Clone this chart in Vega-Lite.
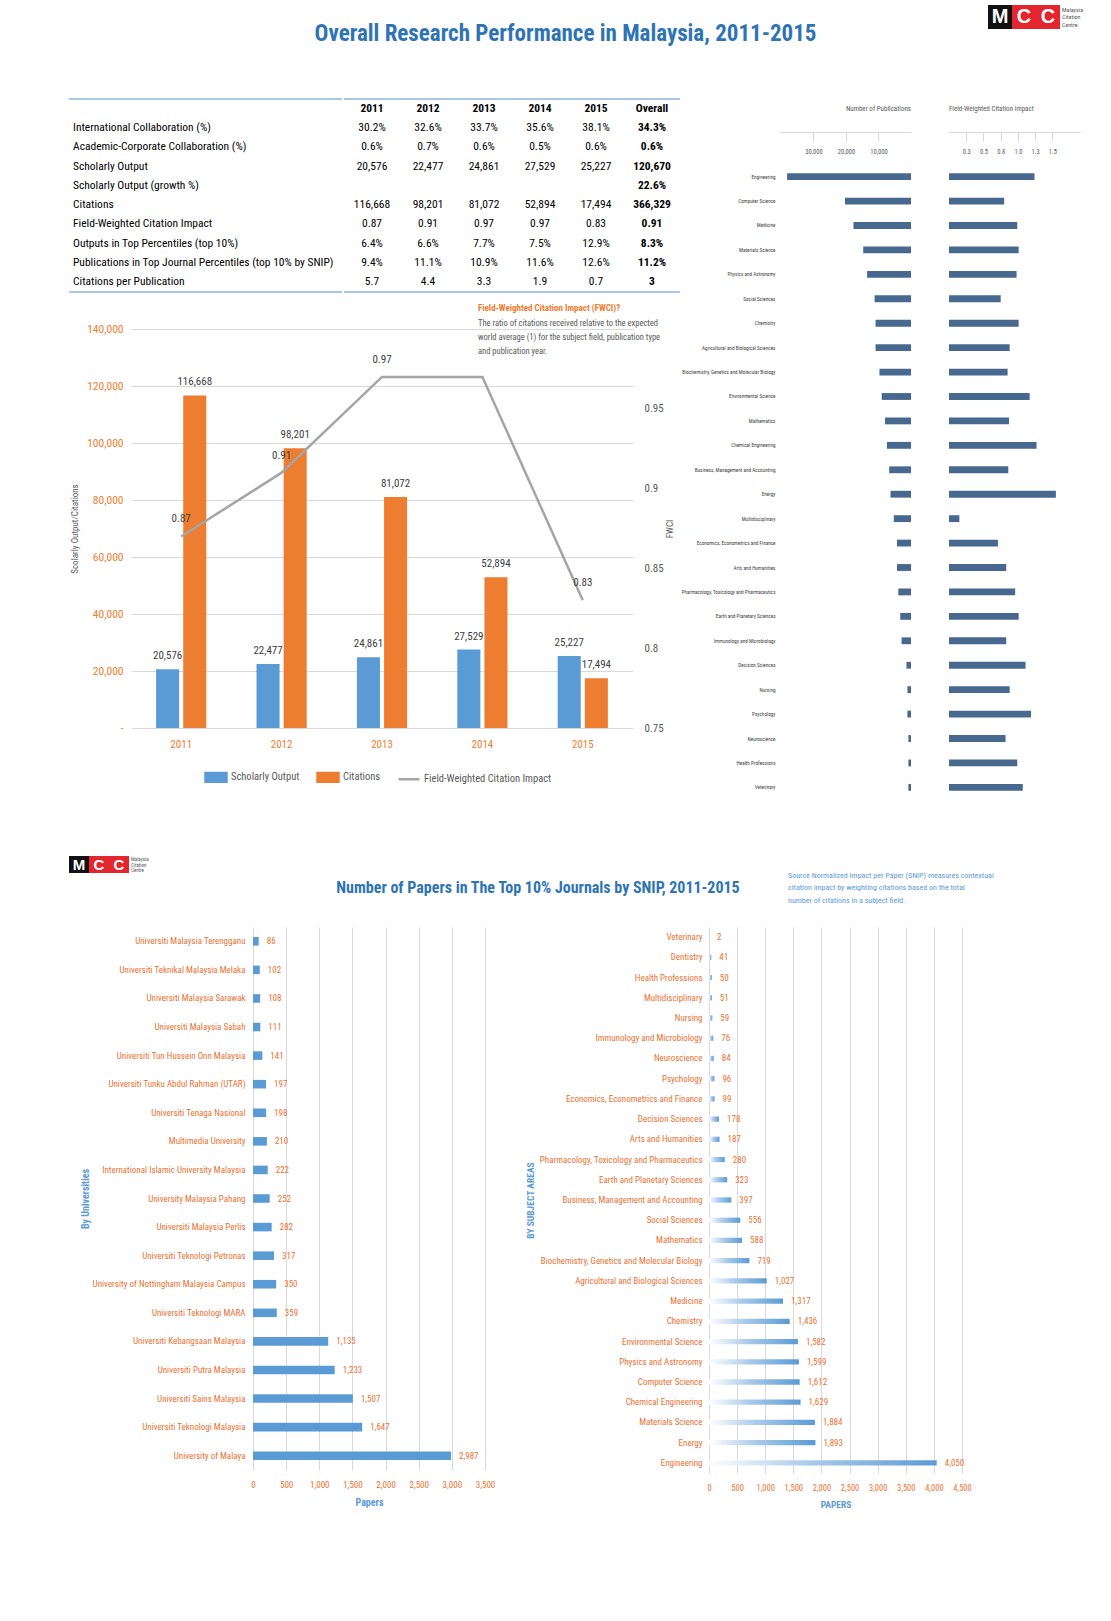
{
"$schema":"https://vega.github.io/schema/vega-lite/v6.json",
"padding":{"left":68,"top":5,"right":0,"bottom":0},
"background":"#ffffff",
"config":{"font":"Liberation Sans Narrow, Roboto Condensed, sans-serif","view":{"stroke":null}},
"datasets":{
"tbl":[
{"r":"hdr","c":"2011","t":"2011"},{"r":"hdr","c":"2012","t":"2012"},{"r":"hdr","c":"2013","t":"2013"},{"r":"hdr","c":"2014","t":"2014"},{"r":"hdr","c":"2015","t":"2015"},{"r":"hdr","c":"Overall","t":"Overall"},
{"r":"International Collaboration (%)","c":"label","t":"International Collaboration (%)"},
{"r":"Academic-Corporate Collaboration (%)","c":"label","t":"Academic-Corporate Collaboration (%)"},
{"r":"Scholarly Output","c":"label","t":"Scholarly Output"},
{"r":"Scholarly Output (growth %)","c":"label","t":"Scholarly Output (growth %)"},
{"r":"Citations","c":"label","t":"Citations"},
{"r":"Field-Weighted Citation Impact","c":"label","t":"Field-Weighted Citation Impact"},
{"r":"Outputs in Top Percentiles (top 10%)","c":"label","t":"Outputs in Top Percentiles (top 10%)"},
{"r":"Publications in Top Journal Percentiles (top 10% by SNIP)","c":"label","t":"Publications in Top Journal Percentiles (top 10% by SNIP)"},
{"r":"Citations per Publication","c":"label","t":"Citations per Publication"},
{"r":"International Collaboration (%)","c":"2011","t":"30.2%"},{"r":"International Collaboration (%)","c":"2012","t":"32.6%"},{"r":"International Collaboration (%)","c":"2013","t":"33.7%"},{"r":"International Collaboration (%)","c":"2014","t":"35.6%"},{"r":"International Collaboration (%)","c":"2015","t":"38.1%"},{"r":"International Collaboration (%)","c":"Overall","t":"34.3%"},
{"r":"Academic-Corporate Collaboration (%)","c":"2011","t":"0.6%"},{"r":"Academic-Corporate Collaboration (%)","c":"2012","t":"0.7%"},{"r":"Academic-Corporate Collaboration (%)","c":"2013","t":"0.6%"},{"r":"Academic-Corporate Collaboration (%)","c":"2014","t":"0.5%"},{"r":"Academic-Corporate Collaboration (%)","c":"2015","t":"0.6%"},{"r":"Academic-Corporate Collaboration (%)","c":"Overall","t":"0.6%"},
{"r":"Scholarly Output","c":"2011","t":"20,576"},{"r":"Scholarly Output","c":"2012","t":"22,477"},{"r":"Scholarly Output","c":"2013","t":"24,861"},{"r":"Scholarly Output","c":"2014","t":"27,529"},{"r":"Scholarly Output","c":"2015","t":"25,227"},{"r":"Scholarly Output","c":"Overall","t":"120,670"},
{"r":"Scholarly Output (growth %)","c":"Overall","t":"22.6%"},
{"r":"Citations","c":"2011","t":"116,668"},{"r":"Citations","c":"2012","t":"98,201"},{"r":"Citations","c":"2013","t":"81,072"},{"r":"Citations","c":"2014","t":"52,894"},{"r":"Citations","c":"2015","t":"17,494"},{"r":"Citations","c":"Overall","t":"366,329"},
{"r":"Field-Weighted Citation Impact","c":"2011","t":"0.87"},{"r":"Field-Weighted Citation Impact","c":"2012","t":"0.91"},{"r":"Field-Weighted Citation Impact","c":"2013","t":"0.97"},{"r":"Field-Weighted Citation Impact","c":"2014","t":"0.97"},{"r":"Field-Weighted Citation Impact","c":"2015","t":"0.83"},{"r":"Field-Weighted Citation Impact","c":"Overall","t":"0.91"},
{"r":"Outputs in Top Percentiles (top 10%)","c":"2011","t":"6.4%"},{"r":"Outputs in Top Percentiles (top 10%)","c":"2012","t":"6.6%"},{"r":"Outputs in Top Percentiles (top 10%)","c":"2013","t":"7.7%"},{"r":"Outputs in Top Percentiles (top 10%)","c":"2014","t":"7.5%"},{"r":"Outputs in Top Percentiles (top 10%)","c":"2015","t":"12.9%"},{"r":"Outputs in Top Percentiles (top 10%)","c":"Overall","t":"8.3%"},
{"r":"Publications in Top Journal Percentiles (top 10% by SNIP)","c":"2011","t":"9.4%"},{"r":"Publications in Top Journal Percentiles (top 10% by SNIP)","c":"2012","t":"11.1%"},{"r":"Publications in Top Journal Percentiles (top 10% by SNIP)","c":"2013","t":"10.9%"},{"r":"Publications in Top Journal Percentiles (top 10% by SNIP)","c":"2014","t":"11.6%"},{"r":"Publications in Top Journal Percentiles (top 10% by SNIP)","c":"2015","t":"12.6%"},{"r":"Publications in Top Journal Percentiles (top 10% by SNIP)","c":"Overall","t":"11.2%"},
{"r":"Citations per Publication","c":"2011","t":"5.7"},{"r":"Citations per Publication","c":"2012","t":"4.4"},{"r":"Citations per Publication","c":"2013","t":"3.3"},{"r":"Citations per Publication","c":"2014","t":"1.9"},{"r":"Citations per Publication","c":"2015","t":"0.7"},{"r":"Citations per Publication","c":"Overall","t":"3"}
],
"combo":[
{"year":"2011","series":"Scholarly Output","value":20576},{"year":"2011","series":"Citations","value":116668},
{"year":"2012","series":"Scholarly Output","value":22477},{"year":"2012","series":"Citations","value":98201},
{"year":"2013","series":"Scholarly Output","value":24861},{"year":"2013","series":"Citations","value":81072},
{"year":"2014","series":"Scholarly Output","value":27529},{"year":"2014","series":"Citations","value":52894},
{"year":"2015","series":"Scholarly Output","value":25227},{"year":"2015","series":"Citations","value":17494}
],
"fwci":[
{"year":"2011","fwci":0.87},{"year":"2012","fwci":0.91},{"year":"2013","fwci":0.97},{"year":"2014","fwci":0.97},{"year":"2015","fwci":0.83}
],
"logo":[{"p":"M","ch":"M"},{"p":"C1","ch":"C"},{"p":"C2","ch":"C"}],
"logotxt":[{"l":"Malaysia"},{"l":"Citation"},{"l":"Centre"}],
"empty":[],
"subj26":[
{"s":"Engineering","pubs":38100,"fw":1.24},
{"s":"Computer Science","pubs":20300,"fw":0.80},
{"s":"Medicine","pubs":17700,"fw":0.99},
{"s":"Materials Science","pubs":14700,"fw":1.01},
{"s":"Physics and Astronomy","pubs":13500,"fw":0.98},
{"s":"Social Sciences","pubs":11200,"fw":0.75},
{"s":"Chemistry","pubs":10900,"fw":1.01},
{"s":"Agricultural and Biological Sciences","pubs":10900,"fw":0.88},
{"s":"Biochemistry, Genetics and Molecular Biology","pubs":9700,"fw":0.85},
{"s":"Environmental Science","pubs":9000,"fw":1.17},
{"s":"Mathematics","pubs":8000,"fw":0.87},
{"s":"Chemical Engineering","pubs":7400,"fw":1.27},
{"s":"Business, Management and Accounting","pubs":6700,"fw":0.86},
{"s":"Energy","pubs":6300,"fw":1.55},
{"s":"Multidisciplinary","pubs":5300,"fw":0.15},
{"s":"Economics, Econometrics and Finance","pubs":4300,"fw":0.71},
{"s":"Arts and Humanities","pubs":4300,"fw":0.83},
{"s":"Pharmacology, Toxicology and Pharmaceutics","pubs":3900,"fw":0.96},
{"s":"Earth and Planetary Sciences","pubs":3300,"fw":1.01},
{"s":"Immunology and Microbiology","pubs":2900,"fw":0.83},
{"s":"Decision Sciences","pubs":1400,"fw":1.11},
{"s":"Nursing","pubs":1100,"fw":0.88},
{"s":"Psychology","pubs":1100,"fw":1.19},
{"s":"Neuroscience","pubs":800,"fw":0.82},
{"s":"Health Professions","pubs":800,"fw":0.99},
{"s":"Veterinary","pubs":800,"fw":1.07}
],
"univ":[
{"u":"Universiti Malaysia Terengganu","n":86},
{"u":"Universiti Teknikal Malaysia Melaka","n":102},
{"u":"Universiti Malaysia Sarawak","n":108},
{"u":"Universiti Malaysia Sabah","n":111},
{"u":"Universiti Tun Hussein Onn Malaysia","n":141},
{"u":"Universiti Tunku Abdul Rahman (UTAR)","n":197},
{"u":"Universiti Tenaga Nasional","n":198},
{"u":"Multimedia University","n":210},
{"u":"International Islamic University Malaysia","n":222},
{"u":"University Malaysia Pahang","n":252},
{"u":"Universiti Malaysia Perlis","n":282},
{"u":"Universiti Teknologi Petronas","n":317},
{"u":"University of Nottingham Malaysia Campus","n":350},
{"u":"Universiti Teknologi MARA","n":359},
{"u":"Universiti Kebangsaan Malaysia","n":1135},
{"u":"Universiti Putra Malaysia","n":1233},
{"u":"Universiti Sains Malaysia","n":1507},
{"u":"Universiti Teknologi Malaysia","n":1647},
{"u":"University of Malaya","n":2987}
],
"subj27":[
{"s":"Veterinary","n":2},{"s":"Dentistry","n":41},{"s":"Health Professions","n":50},{"s":"Multidisciplinary","n":51},{"s":"Nursing","n":59},
{"s":"Immunology and Microbiology","n":76},{"s":"Neuroscience","n":84},{"s":"Psychology","n":96},{"s":"Economics, Econometrics and Finance","n":99},
{"s":"Decision Sciences","n":178},{"s":"Arts and Humanities","n":187},{"s":"Pharmacology, Toxicology and Pharmaceutics","n":280},
{"s":"Earth and Planetary Sciences","n":323},{"s":"Business, Management and Accounting","n":397},{"s":"Social Sciences","n":556},
{"s":"Mathematics","n":588},{"s":"Biochemistry, Genetics and Molecular Biology","n":719},{"s":"Agricultural and Biological Sciences","n":1027},
{"s":"Medicine","n":1317},{"s":"Chemistry","n":1436},{"s":"Environmental Science","n":1582},{"s":"Physics and Astronomy","n":1599},
{"s":"Computer Science","n":1612},{"s":"Chemical Engineering","n":1629},{"s":"Materials Science","n":1884},{"s":"Energy","n":1893},{"s":"Engineering","n":4050}
]
},
"spacing":53,
"resolve":{"scale":{"color":"independent"},"legend":{"color":"independent"}},
"vconcat":[
{"spacing":35,
 "resolve":{"scale":{"color":"independent"},"legend":{"color":"independent"}},
 "vconcat":[
 {"spacing":0,
  "hconcat":[
  {"width":919,"height":58,"data":{"values":[{"t":"Overall Research Performance in Malaysia, 2011-2015"}]},
   "mark":{"type":"text","fontSize":23,"fontWeight":"bold","color":"#2E74B5","dx":37},
   "encoding":{"text":{"field":"t"}}},
  {"width":120,"height":24,
   "layer":[
    {"data":{"name":"logo"},
     "encoding":{"x":{"field":"p","type":"nominal","sort":null,"scale":{"type":"band","domain":["M","C1","C2","T1","T2"],"paddingInner":0,"paddingOuter":0},"axis":null}},
     "layer":[
      {"transform":[{"filter":"datum.p == 'M'"}],"mark":{"type":"bar","color":"#111111"}},
      {"transform":[{"filter":"datum.p != 'M'"}],"mark":{"type":"bar","color":"#E3262D"}},
      {"mark":{"type":"text","color":"#ffffff","fontWeight":"bold","fontSize":20,"font":"Liberation Sans"},"encoding":{"text":{"field":"ch"}}}
     ]},
    {"data":{"name":"logotxt"},
     "mark":{"type":"text","align":"left","fontSize":6,"color":"#555555","dx":-10},
     "encoding":{"x":{"datum":"T1","type":"nominal"},"y":{"field":"l","type":"nominal","sort":null,"scale":{"type":"point","padding":0.6},"axis":null},"text":{"field":"l"}}}
   ]}
 ]},
 {"spacing":0,
  "resolve":{"scale":{"color":"independent"},"legend":{"color":"independent"}},
  "hconcat":[
  {"spacing":10,
   "resolve":{"scale":{"color":"independent"},"legend":{"color":"independent"}},
   "vconcat":[
   {"spacing":0,
    "hconcat":[
    {"width":273,"height":193,"data":{"name":"tbl"},
     "encoding":{"y":{"field":"r","type":"nominal","scale":{"type":"band","domain":["hdr","International Collaboration (%)","Academic-Corporate Collaboration (%)","Scholarly Output","Scholarly Output (growth %)","Citations","Field-Weighted Citation Impact","Outputs in Top Percentiles (top 10%)","Publications in Top Journal Percentiles (top 10% by SNIP)","Citations per Publication"],"paddingInner":0,"paddingOuter":0},"axis":null}},
     "layer":[
      {"data":{"values":[{"r":"hdr"}]},"mark":{"type":"rule","color":"#8DB4E2","strokeWidth":1.5},
       "encoding":{"y":{"field":"r","type":"nominal","bandPosition":0}}},
      {"data":{"values":[{"r":"Citations per Publication"}]},"mark":{"type":"rule","color":"#8DB4E2","strokeWidth":1.5},
       "encoding":{"y":{"field":"r","type":"nominal","bandPosition":1}}},
      {"transform":[{"filter":"datum.c == 'label'"}],"mark":{"type":"text","align":"left","fontSize":11.5,"color":"#000000","dx":4},
       "encoding":{"x":{"field":"c","type":"nominal","scale":{"type":"point","padding":0,"align":0},"axis":null},
        "text":{"field":"t"}}}
     ]},
    {"width":336,"height":193,"data":{"name":"tbl"},
     "encoding":{"y":{"field":"r","type":"nominal","scale":{"type":"band","domain":["hdr","International Collaboration (%)","Academic-Corporate Collaboration (%)","Scholarly Output","Scholarly Output (growth %)","Citations","Field-Weighted Citation Impact","Outputs in Top Percentiles (top 10%)","Publications in Top Journal Percentiles (top 10% by SNIP)","Citations per Publication"],"paddingInner":0,"paddingOuter":0},"axis":null}},
     "layer":[
      {"data":{"values":[{"r":"hdr"}]},"mark":{"type":"rule","color":"#8DB4E2","strokeWidth":1.5},
       "encoding":{"y":{"field":"r","type":"nominal","bandPosition":0}}},
      {"data":{"values":[{"r":"Citations per Publication"}]},"mark":{"type":"rule","color":"#8DB4E2","strokeWidth":1.5},
       "encoding":{"y":{"field":"r","type":"nominal","bandPosition":1}}},
      {"transform":[{"filter":"datum.c != 'label' && datum.c != 'Overall' && datum.r != 'hdr'"}],"mark":{"type":"text","fontSize":11.5,"color":"#000000"},
       "encoding":{"x":{"field":"c","type":"nominal","scale":{"type":"point","domain":["2011","2012","2013","2014","2015","Overall"],"padding":0.5},"axis":null},"text":{"field":"t"}}},
      {"transform":[{"filter":"datum.c != 'label' && (datum.c == 'Overall' || datum.r == 'hdr')"}],"mark":{"type":"text","fontSize":11.5,"fontWeight":"bold","color":"#000000"},
       "encoding":{"x":{"field":"c","type":"nominal","scale":{"type":"point","domain":["2011","2012","2013","2014","2015","Overall"],"padding":0.5},"axis":null},"text":{"field":"t"}}}
     ]}
   ]},
   {"spacing":0,
    "resolve":{"scale":{"color":"independent"},"legend":{"color":"independent"}},
    "hconcat":[
    {"width":1,"height":1,"data":{"name":"empty"},"mark":{"type":"point","opacity":0}},
    {"width":502,"height":399,
    "title":{"text":"Field-Weighted Citation Impact (FWCI)?","subtitle":["The ratio of citations received relative to the expected","world average (1) for the subject field, publication type","and publication year."],"frame":"group","anchor":"end","align":"left","dx":-155,"offset":-32,"fontSize":9,"fontWeight":"bold","color":"#ED7D31","subtitleFontSize":8.5,"subtitleColor":"#595959","subtitlePadding":6,"subtitleLineHeight":14},
    "encoding":{"x":{"field":"year","type":"ordinal","scale":{"paddingInner":0.5,"paddingOuter":0.25},"axis":{"title":null,"labelColor":"#ED7D31","labelFontSize":11,"ticks":false,"domain":false,"labelPadding":10,"labelAngle":0}}},
    "layer":[
     {"data":{"name":"combo"},
      "encoding":{
       "y":{"field":"value","type":"quantitative","scale":{"domain":[0,140000],"nice":false},"axis":{"title":"Scolarly Output/Citations","titleColor":"#595959","titleFontSize":9,"titleFontWeight":"normal","labelColor":"#ED7D31","labelFontSize":11.5,"values":[0,20000,40000,60000,80000,100000,120000,140000],"labelExpr":"datum.value == 0 ? '-' : format(datum.value, ',')","grid":true,"gridColor":"#D9D9D9","domain":false,"ticks":false,"labelPadding":8,"titlePadding":7}},
       "xOffset":{"field":"series","type":"nominal","sort":["Scholarly Output","Citations"],"scale":{"paddingInner":0.15}}
      },
      "layer":[
       {"mark":{"type":"bar"},"encoding":{"color":{"field":"series","type":"nominal","scale":{"domain":["Scholarly Output","Citations","Field-Weighted Citation Impact"],"range":["#5B9BD5","#ED7D31","#A5A5A5"]},
         "legend":{"orient":"none","legendX":73,"legendY":436,"direction":"horizontal","title":null,"labelColor":"#595959","labelFontSize":10.5,"symbolSize":441,"columnPadding":12,"labelOffset":3,
          "encode":{"symbols":{"update":{"shape":{"signal":"datum.value === 'Field-Weighted Citation Impact' ? 'M-1,0H1' : 'M-1,-0.42H1V0.42H-1Z'"},"fill":{"signal":"datum.value === 'Scholarly Output' ? '#5B9BD5' : datum.value === 'Citations' ? '#ED7D31' : 'transparent'"},"stroke":{"signal":"datum.value === 'Field-Weighted Citation Impact' ? '#A5A5A5' : 'transparent'"},"strokeWidth":{"value":2.5}}}}}}}},
       {"mark":{"type":"text","baseline":"bottom","dy":-8,"fontSize":11,"color":"#404040"},"encoding":{"text":{"field":"value","format":","}}}
      ]},
     {"data":{"name":"fwci"},
      "encoding":{"y":{"field":"fwci","type":"quantitative","scale":{"domain":[0.75,1.0],"nice":false,"zero":false},"axis":{"orient":"right","title":"FWCI","titleAngle":-90,"titleColor":"#595959","titleFontSize":9,"titleFontWeight":"normal","titlePadding":11,"values":[0.75,0.8,0.85,0.9,0.95],"labelExpr":"format(datum.value, '.2~f')","labelColor":"#595959","labelFontSize":11,"grid":false,"domain":false,"ticks":false,"labelPadding":11}}},
      "layer":[
       {"mark":{"type":"line","strokeWidth":2.5},"encoding":{"color":{"datum":"Field-Weighted Citation Impact","type":"nominal"}}},
       {"transform":[{"filter":"datum.year != '2014'"}],"mark":{"type":"text","dy":-17,"fontSize":11,"color":"#404040"},"encoding":{"text":{"field":"fwci","format":".2f"}}}
      ]}
    ],
    "resolve":{"scale":{"y":"independent"},"axis":{"y":"independent"}}}
   ]}
  ]},
  {"spacing":4,
   "vconcat":[
   {"width":1,"height":1,"data":{"name":"empty"},"mark":{"type":"point","opacity":0}},
   {"spacing":38,
    "hconcat":[
    {"width":132,"height":642,"data":{"name":"subj26"},
     "title":{"text":"Number of Publications","anchor":"end","fontSize":7,"fontWeight":"normal","color":"#595959","offset":20},
     "mark":{"type":"bar","color":"#47698F"},
     "encoding":{
      "y":{"field":"s","type":"nominal","sort":null,"scale":{"paddingInner":0.72,"paddingOuter":0.5},"axis":{"title":null,"labelFontSize":5.2,"labelColor":"#404040","ticks":false,"domain":false,"labelPadding":4,"labelLimit":300}},
      "x":{"field":"pubs","type":"quantitative","scale":{"domain":[0,40600],"reverse":true,"nice":false},"axis":{"orient":"top","offset":29,"title":null,"values":[10000,20000,30000],"format":",.0f","grid":false,"domainColor":"#D9D9D9","tickColor":"#D9D9D9","tickSize":-9,"labelPadding":-13,"labelFontSize":6.5,"labelColor":"#595959"}}
     }},
    {"width":131,"height":642,"data":{"name":"subj26"},
     "title":{"text":"Field-Weighted Citation Impact","anchor":"start","fontSize":7,"fontWeight":"normal","color":"#595959","offset":20},
     "mark":{"type":"bar","color":"#47698F"},
     "encoding":{
      "y":{"field":"s","type":"nominal","sort":null,"scale":{"paddingInner":0.72,"paddingOuter":0.5},"axis":null},
      "x":{"field":"fw","type":"quantitative","scale":{"domain":[0,1.9],"nice":false},"axis":{"orient":"top","offset":29,"title":null,"values":[0.25,0.5,0.75,1.0,1.25,1.5],"format":".1f","grid":false,"domainColor":"#D9D9D9","tickColor":"#D9D9D9","tickSize":-9,"labelPadding":-13,"labelFontSize":6.5,"labelColor":"#595959"}}
     }}
   ]}
  ]}
 ]}
]},
{"spacing":7,
 "vconcat":[
 {"spacing":166,
  "hconcat":[
  {"width":100,"height":17,
   "layer":[
    {"data":{"name":"logo"},
     "encoding":{"x":{"field":"p","type":"nominal","sort":null,"scale":{"type":"band","domain":["M","C1","C2","T1","T2"],"paddingInner":0,"paddingOuter":0},"axis":null}},
     "layer":[
      {"transform":[{"filter":"datum.p == 'M'"}],"mark":{"type":"bar","color":"#111111"}},
      {"transform":[{"filter":"datum.p != 'M'"}],"mark":{"type":"bar","color":"#E3262D"}},
      {"mark":{"type":"text","color":"#ffffff","fontWeight":"bold","fontSize":15,"font":"Liberation Sans"},"encoding":{"text":{"field":"ch"}}}
     ]},
    {"data":{"name":"logotxt"},
     "mark":{"type":"text","align":"left","fontSize":5,"color":"#555555","dx":-8},
     "encoding":{"x":{"datum":"T1","type":"nominal"},"y":{"field":"l","type":"nominal","sort":null,"scale":{"type":"point","padding":0.6},"axis":null},"text":{"field":"l"}}}
   ]},
  {"spacing":47,
   "hconcat":[
   {"width":400,"height":64,"data":{"values":[{"t":"Number of Papers in The Top 10% Journals by SNIP, 2011-2015"}]},
    "mark":{"type":"text","fontSize":16,"fontWeight":"bold","color":"#2E74B5"},
    "encoding":{"text":{"field":"t"}}},
   {"width":250,"height":50,
    "data":{"values":[{"k":"n","i":1,"t":"Source Normalized Impact per Paper (SNIP) measures contextual"},{"k":"n","i":2,"t":"citation impact by weighting citations based on the total"},{"k":"n","i":3,"t":"number of citations in a subject field."}]},
    "mark":{"type":"text","align":"left","fontSize":8,"color":"#5B9BD5","dy":7},
    "encoding":{"x":{"field":"k","type":"nominal","scale":{"type":"point","padding":0,"align":0},"axis":null},"y":{"field":"i","type":"ordinal","scale":{"type":"point","padding":1},"axis":null},"text":{"field":"t"}}}
  ]}
 ]},
 {"spacing":10,
  "hconcat":[
  {"width":1,"height":1,"data":{"name":"empty"},"mark":{"type":"point","opacity":0}},
  {"spacing":30,
   "hconcat":[
   {"width":232,"height":543,"data":{"name":"univ"},
    "encoding":{
     "y":{"field":"u","type":"nominal","sort":null,"scale":{"paddingInner":0.7,"paddingOuter":0.35},"axis":{"title":"By Universities","titleColor":"#5B9BD5","titleFontSize":10,"titleFontWeight":"bold","titlePadding":2,"labelColor":"#E97132","labelFontSize":9,"labelPadding":8,"ticks":false,"domain":false,"labelLimit":300}},
     "x":{"field":"n","type":"quantitative","scale":{"domain":[0,3500],"nice":false},"axis":{"title":"Papers","titleColor":"#5B9BD5","titleFontSize":10,"titleFontWeight":"bold","titlePadding":8,"values":[0,500,1000,1500,2000,2500,3000,3500],"format":",.0f","labelColor":"#E97132","labelFontSize":9,"labelPadding":10,"labelFlush":false,"labelOverlap":false,"grid":true,"gridColor":"#D9D9D9","ticks":false,"domain":false}}
    },
    "layer":[
     {"mark":{"type":"bar","color":"#5B9BD5"}},
     {"mark":{"type":"text","align":"left","dx":8,"fontSize":9,"color":"#E97132"},"encoding":{"text":{"field":"n","format":","}}}
    ]},
   {"width":253,"height":546,"data":{"name":"subj27"},
    "encoding":{
     "y":{"field":"s","type":"nominal","sort":null,"scale":{"paddingInner":0.74,"paddingOuter":0.37},"axis":{"title":"BY SUBJECT AREAS","titleColor":"#5B9BD5","titleFontSize":9.5,"titleFontWeight":"bold","titlePadding":4,"labelColor":"#E97132","labelFontSize":9,"labelPadding":7,"ticks":false,"domain":false,"labelLimit":300}},
     "x":{"field":"n","type":"quantitative","scale":{"domain":[0,4500],"nice":false},"axis":{"title":"PAPERS","titleColor":"#5B9BD5","titleFontSize":9.5,"titleFontWeight":"bold","titlePadding":8,"values":[0,500,1000,1500,2000,2500,3000,3500,4000,4500],"format":",.0f","labelColor":"#E97132","labelFontSize":8.5,"labelPadding":10,"labelFlush":false,"labelOverlap":false,"grid":true,"gridColor":"#D9D9D9","ticks":false,"domain":false}}
    },
    "layer":[
     {"mark":{"type":"bar","color":{"gradient":"linear","x1":0,"x2":1,"y1":0,"y2":0,"stops":[{"offset":0,"color":"#ffffff"},{"offset":0.45,"color":"#A9C9EA"},{"offset":1,"color":"#5B9BD5"}]}}},
     {"mark":{"type":"text","align":"left","dx":8,"fontSize":9,"color":"#E97132"},"encoding":{"text":{"field":"n","format":","}}}
    ]}
  ]}
 ]}
]}
]
}
